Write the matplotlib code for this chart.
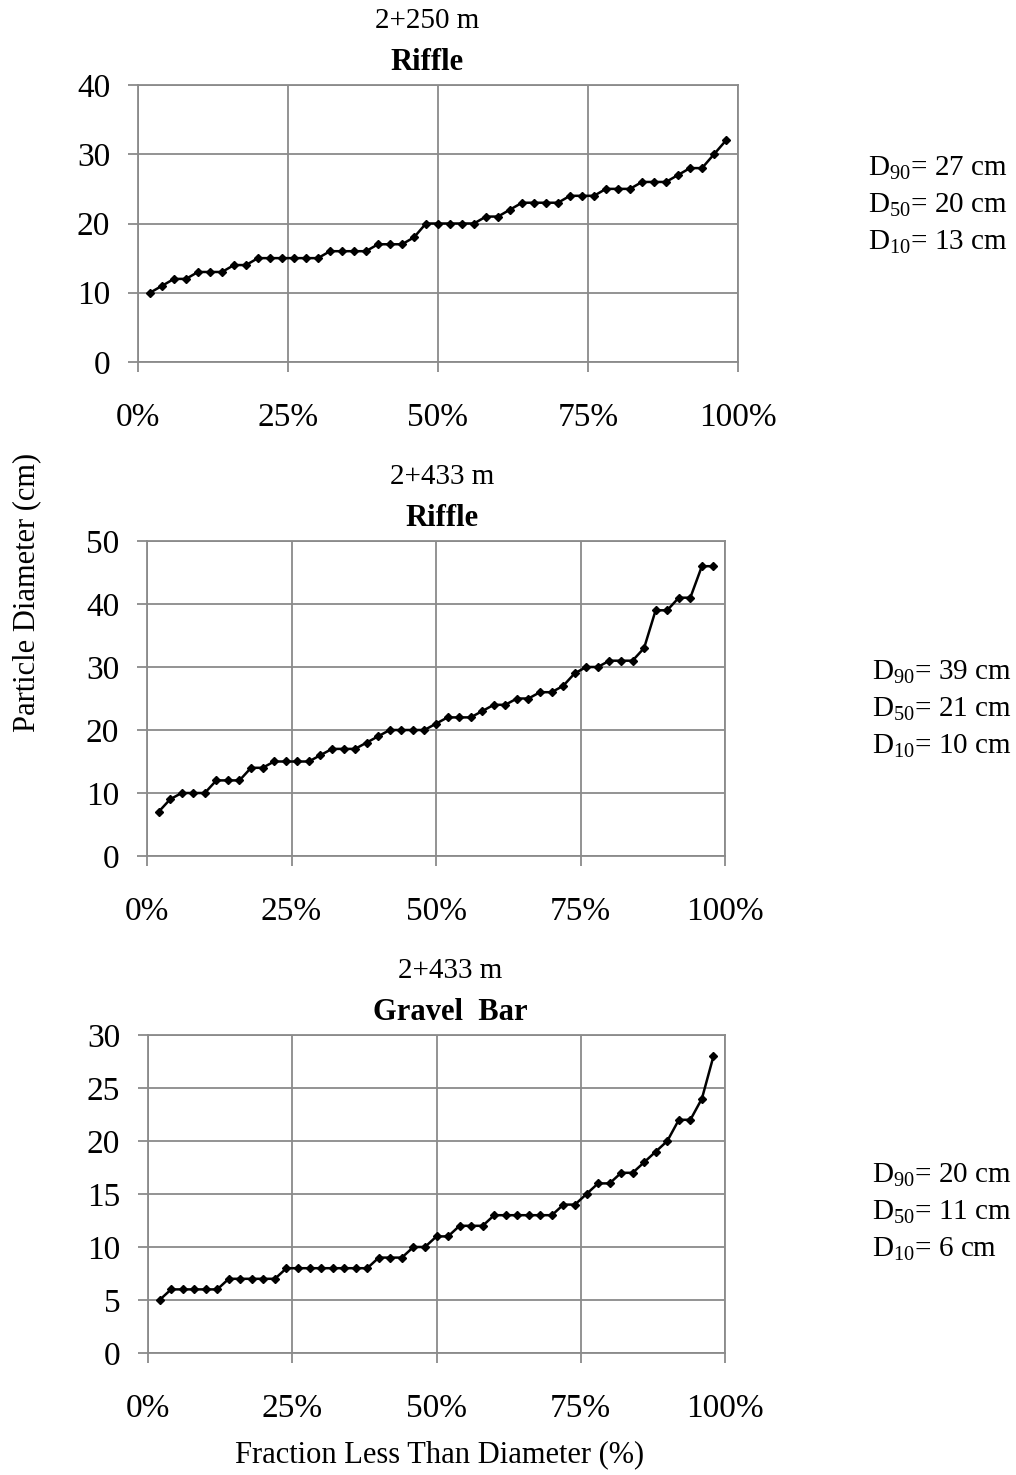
import numpy as np
import matplotlib
matplotlib.use("Agg")
import matplotlib.pyplot as plt

plt.rcParams["font.family"] = ["Liberation Serif", "DejaVu Serif"]
plt.rcParams["mathtext.fontset"] = "custom"
plt.rcParams["mathtext.rm"] = "Liberation Serif"

# fraction less than diameter (%), same sampling for all three panels
frac = list(range(2, 100, 2))

d_riffle_250 = [10, 11, 12, 12, 13, 13, 13, 14, 14, 15, 15, 15, 15, 15, 15, 16, 16,
                16, 16, 17, 17, 17, 18, 20, 20, 20, 20, 20, 21, 21, 22, 23, 23, 23,
                23, 24, 24, 24, 25, 25, 25, 26, 26, 26, 27, 28, 28, 30, 32]
d_riffle_433 = [7, 9, 10, 10, 10, 12, 12, 12, 14, 14, 15, 15, 15, 15, 16, 17, 17,
                17, 18, 19, 20, 20, 20, 20, 21, 22, 22, 22, 23, 24, 24, 25, 25, 26,
                26, 27, 29, 30, 30, 31, 31, 31, 33, 39, 39, 41, 41, 46, 46]
d_bar_433 = [5, 6, 6, 6, 6, 6, 7, 7, 7, 7, 7, 8, 8, 8, 8, 8, 8, 8, 8, 9, 9, 9,
             10, 10, 11, 11, 12, 12, 12, 13, 13, 13, 13, 13, 13, 14, 14, 15, 16,
             16, 17, 17, 18, 19, 20, 22, 22, 24, 28]

stations = ["2+250 m", "2+433 m", "2+433 m"]
units = ["Riffle", "Riffle", "Gravel  Bar"]
ymax = [40, 50, 30]
ystep = [10, 10, 5]
d90 = ["27 cm", "39 cm", "20 cm"]
d50 = ["20 cm", "21 cm", "11 cm"]
d10 = ["13 cm", "10 cm", "6 cm"]
series = [d_riffle_250, d_riffle_433, d_bar_433]

W, H = 1016, 1475
# axes boxes in pixels: left, top, right, bottom
boxes = [(138, 85, 738, 362), (147, 541, 725, 856), (148, 1035, 725, 1353)]
title_x = [427, 442, 450]
note_x = [868, 872, 872]
note_y = [(168, 205, 242), (672, 709, 746), (1175, 1212, 1249)]

fig = plt.figure(figsize=(W / 100, H / 100), dpi=100)
grid_c = "#8a8a8a"

for i in range(3):
    l, t, r, b = boxes[i]
    ax = fig.add_axes([l / W, 1 - b / H, (r - l) / W, (b - t) / H])
    ax.plot(frac, series[i], color="black", lw=1.8, marker="D", ms=4)
    ax.set_xlim(0, 100)
    ax.set_ylim(0, ymax[i])
    ax.set_xticks([0, 25, 50, 75, 100])
    ax.set_xticklabels(["0%", "25%", "50%", "75%", "100%"])
    ax.set_yticks(np.arange(0, ymax[i] + 1, ystep[i]))
    ax.grid(True, color=grid_c, lw=1.3)
    ax.set_axisbelow(True)
    for s in ax.spines.values():
        s.set_color(grid_c)
        s.set_linewidth(1.3)
    ax.tick_params(axis="y", length=7, width=1.3, color=grid_c, pad=13, labelsize=24)
    ax.tick_params(axis="x", length=7, width=1.3, color=grid_c, pad=22, labelsize=24)

    # titles above each panel
    fig.text(title_x[i] / W, 1 - (t - 64) / H, stations[i], ha="center", va="center",
             fontsize=21)
    fig.text(title_x[i] / W, 1 - (t - 23) / H, units[i], ha="center", va="center",
             fontsize=22, fontweight="bold")

    # grain size summary
    for lab, val, yy in zip(["90", "50", "10"], [d90[i], d50[i], d10[i]], note_y[i]):
        fig.text(note_x[i] / W, 1 - yy / H, r"D$_{\mathrm{%s}}$= %s" % (lab, val),
                 ha="left", va="center", fontsize=21)

fig.text(27 / W, 1 - 592 / H, "Particle Diameter (cm)", rotation=90,
         ha="center", va="center", fontsize=22)
fig.text(440 / W, 1 - 1455 / H, "Fraction Less Than Diameter (%)",
         ha="center", va="center", fontsize=22)

fig.savefig("out.png", dpi=100)
